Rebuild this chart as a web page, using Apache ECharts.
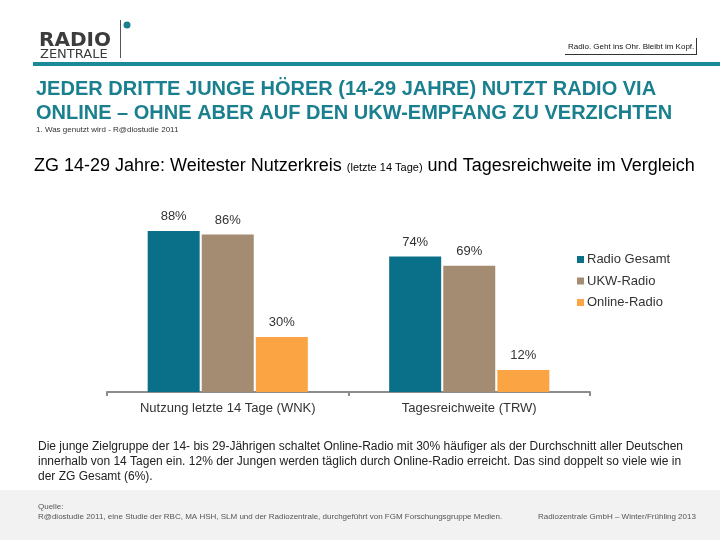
<!DOCTYPE html>
<html><head><meta charset="utf-8">
<script src="https://cdn.jsdelivr.net/npm/echarts@6/dist/echarts.min.js"></script>
<style>html,body{margin:0;padding:0;background:#fff}#c{width:720px;height:540px}</style>
</head><body><div id="c"></div>
<script>
const categories = ['Nutzung letzte 14 Tage (WNK)', 'Tagesreichweite (TRW)'];
const seriesNames = ['Radio Gesamt', 'UKW-Radio', 'Online-Radio'];
const radioGesamt = [88, 74];
const ukwRadio = [86, 69];
const onlineRadio = [30, 12];
const colors = ['#0a7089', '#a38c72', '#fba443'];
const seriesData = [radioGesamt, ukwRadio, onlineRadio];

const chart = echarts.init(document.getElementById('c'), null, {renderer: 'canvas'});
const F = "'Liberation Sans', Arial, sans-serif";
const FN = "'Liberation Sans Narrow', 'Arial Narrow', 'Liberation Sans', sans-serif";
const paragraph = [
  'Die junge Zielgruppe der 14- bis 29-Jährigen schaltet Online-Radio mit 30% häufiger als der Durchschnitt aller Deutschen',
  'innerhalb von 14 Tagen ein. 12% der Jungen werden täglich durch Online-Radio erreicht. Das sind doppelt so viele wie in',
  'der ZG Gesamt (6%).'
];
chart.setOption({
  animation: false,
  textStyle: {fontFamily: F},
  grid: {left: 107, right: 130, top: 209, bottom: 148, containLabel: false},
  xAxis: {
    type: 'category', data: categories,
    axisLine: {lineStyle: {color: '#8c8c8c', width: 2}},
    axisTick: {show: true, length: 4, lineStyle: {color: '#8c8c8c', width: 2}},
    axisLabel: {color: '#333', fontSize: 13, margin: 10, fontFamily: F}
  },
  yAxis: {type: 'value', min: 0, max: 100, show: false, splitLine: {show: false}},
  legend: {
    orient: 'vertical', left: 572, top: 248, itemWidth: 7, itemHeight: 7, itemGap: 8.5,
    icon: 'rect', data: seriesNames,
    textStyle: {color: '#333', fontSize: 13, fontFamily: F, padding: [0, 0, 0, -2]}
  },
  series: seriesNames.map((n, i) => ({
    name: n, type: 'bar', data: seriesData[i], barWidth: 52, barGap: '4%',
    itemStyle: {color: colors[i]},
    label: {show: true, position: 'top', distance: 8, formatter: '{c}%', color: '#333', fontSize: 13, fontFamily: F}
  })),
  graphic: [
    {type: 'rect', shape: {x: 0, y: 490, width: 720, height: 50}, style: {fill: '#f2f2f2'}},
    {type: 'rect', shape: {x: 33, y: 62, width: 687, height: 4}, style: {fill: '#1a8a99'}},
    {type: 'text', left: 39, top: 31, style: {text: 'RADIO', font: "bold 20px 'DejaVu Sans', sans-serif", fill: '#3c3c3c'}},
    {type: 'text', left: 40, top: 48, style: {text: 'ZENTRALE', font: "13px 'DejaVu Sans', sans-serif", fill: '#3c3c3c'}},
    {type: 'rect', shape: {x: 120, y: 20, width: 1, height: 38}, style: {fill: '#555'}},
    {type: 'circle', shape: {cx: 127, cy: 25, r: 3.5}, style: {fill: '#1a7f8e'}},
    {type: 'text', left: 568, top: 43, style: {text: 'Radio. Geht ins Ohr. Bleibt im Kopf.', font: "8px " + F, fill: '#111'}},
    {type: 'rect', shape: {x: 565, y: 54, width: 132, height: 1}, style: {fill: '#333'}},
    {type: 'rect', shape: {x: 696, y: 38, width: 1, height: 17}, style: {fill: '#333'}},
    {type: 'text', left: 36, top: 77, style: {text: 'JEDER DRITTE JUNGE HÖRER (14-29 JAHRE) NUTZT RADIO VIA\nONLINE – OHNE ABER AUF DEN UKW-EMPFANG ZU VERZICHTEN', font: "bold 20px " + FN, fill: '#1a7f8e', lineHeight: 24}},
    {type: 'text', left: 36, top: 126, style: {text: '1. Was genutzt wird - R@diostudie 2011', font: "8px " + F, fill: '#333'}},
    {type: 'text', left: 34, top: 157, style: {
      text: '{a|ZG 14-29 Jahre: Weitester Nutzerkreis }{b|(letzte 14 Tage)}{a| und Tagesreichweite im Vergleich}',
      rich: {a: {fontSize: 18, fontFamily: F, color: '#333'}, b: {fontSize: 11, fontFamily: F, color: '#333', padding: [4, 0, 0, 0]}}
    }},
    {type: 'text', left: 38, top: 439, style: {text: paragraph.join('\n'), font: "12px " + F, fill: '#222', lineHeight: 15}},
    {type: 'text', left: 38, top: 503, style: {text: 'Quelle:', font: "8px " + F, fill: '#555'}},
    {type: 'text', left: 38, top: 513, style: {text: 'R@diostudie 2011, eine Studie der RBC, MA HSH, SLM und der Radiozentrale, durchgeführt von FGM Forschungsgruppe Medien.', font: "8px " + F, fill: '#555'}},
    {type: 'text', left: 538, top: 513, style: {text: 'Radiozentrale GmbH – Winter/Frühling 2013', font: "8px " + F, fill: '#555'}}
  ]
});
</script></body></html>
